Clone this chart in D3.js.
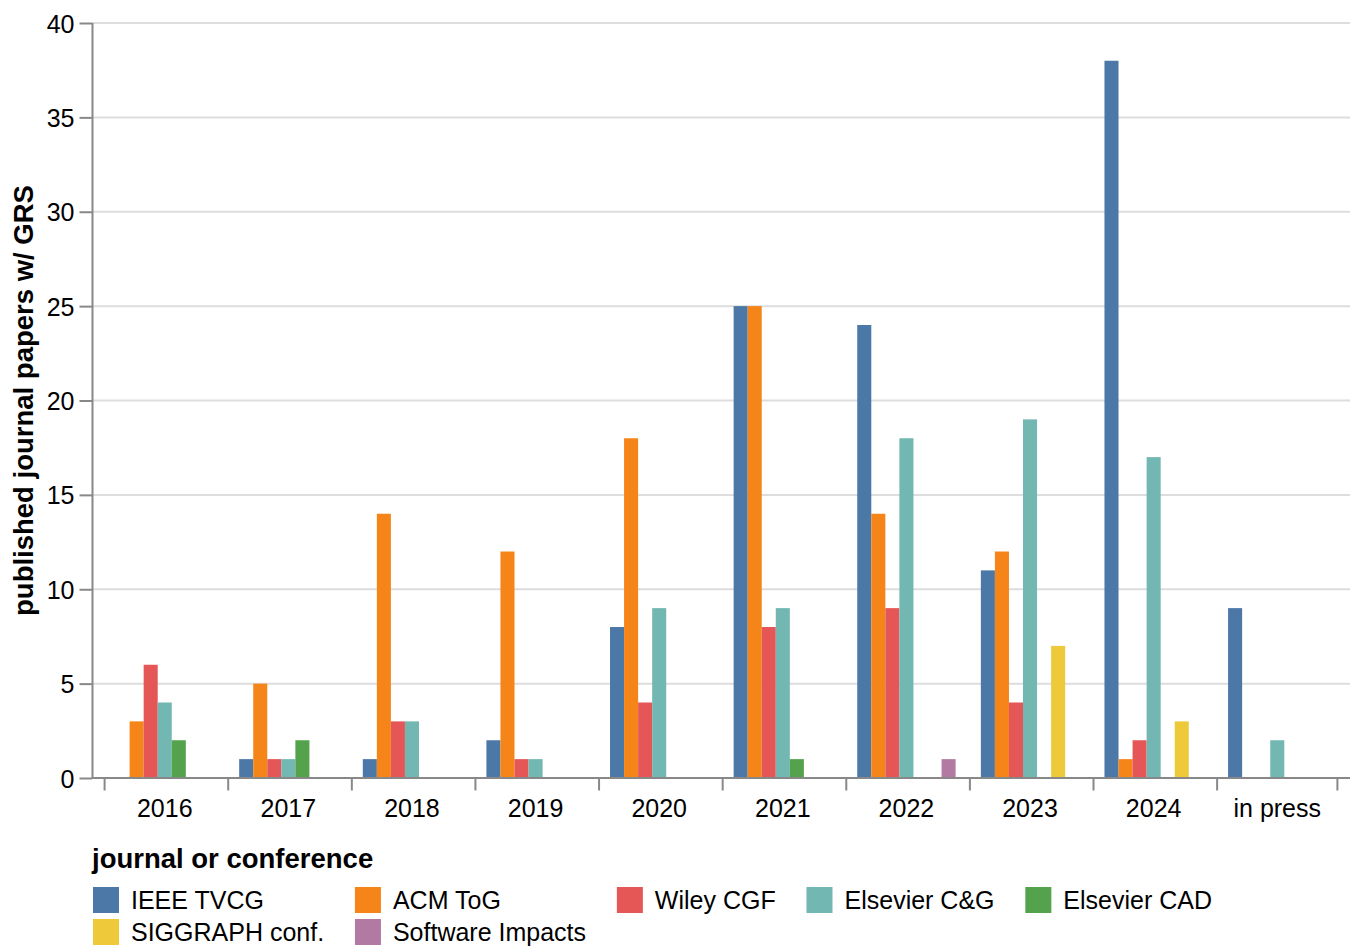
<!DOCTYPE html>
<html>
<head>
<meta charset="utf-8">
<script src="https://cdn.jsdelivr.net/npm/d3@7"></script>
<style>
  body { margin: 0; background: #fff; }
  text { font-family: "Liberation Sans", Arial, sans-serif; fill: #000; }
</style>
</head>
<body>
<svg id="chart"></svg>
<script>
// categories on the x axis
const years = ["2016", "2017", "2018", "2019", "2020", "2021", "2022", "2023", "2024", "in press"];

// journals / conferences (legend order)
const venues = ["IEEE TVCG", "ACM ToG", "Wiley CGF", "Elsevier C&G", "Elsevier CAD", "SIGGRAPH conf.", "Software Impacts"];
const venueColors = ["#4c78a8", "#f58518", "#e45756", "#72b7b2", "#54a24b", "#eeca3b", "#b279a2"];

// papers per year, one array per venue (same order as years)
const ieeeTvcg        = [0, 1, 1, 2, 8, 25, 24, 11, 38, 9];
const acmTog          = [3, 5, 14, 12, 18, 25, 14, 12, 1, 0];
const wileyCgf        = [6, 1, 3, 1, 4, 8, 9, 4, 2, 0];
const elsevierCg      = [4, 1, 3, 1, 9, 9, 18, 19, 17, 2];
const elsevierCad     = [2, 2, 0, 0, 0, 1, 0, 0, 0, 0];
const siggraphConf    = [0, 0, 0, 0, 0, 0, 0, 7, 3, 0];
const softwareImpacts = [0, 0, 0, 0, 0, 0, 1, 0, 0, 0];

const yTicks = [0, 5, 10, 15, 20, 25, 30, 35, 40];

const seriesValues = [ieeeTvcg, acmTog, wileyCgf, elsevierCg, elsevierCad, siggraphConf, softwareImpacts];

const rows = [];
years.forEach((yr, i) => {
    venues.forEach((v, j) => {
        rows.push({ year: yr, venue: v, value: seriesValues[j][i] });
    });
});

const W = 1355, H = 946;
const margin = { top: 23, right: 5, bottom: 168, left: 92 };
const plotW = W - margin.left - margin.right;
const plotH = H - margin.top - margin.bottom;

const svg = d3.select("#chart").attr("width", W).attr("height", H);
const g = svg.append("g").attr("transform", `translate(${margin.left},${margin.top})`);

const x0 = d3.scaleBand()
    .domain(years)
    .range([12.6, plotW - 12.6])
    .paddingInner(0.027)
    .paddingOuter(0);

const x1 = d3.scaleBand()
    .domain(venues)
    .range([0, x0.bandwidth()])
    .paddingOuter(0.78);

const y = d3.scaleLinear().domain([0, 40]).range([plotH, 0]);

const color = d3.scaleOrdinal().domain(venues).range(venueColors);

// grid
g.append("g")
    .selectAll("line")
    .data(yTicks)
    .join("line")
    .attr("x1", 0)
    .attr("x2", plotW)
    .attr("y1", d => y(d))
    .attr("y2", d => y(d))
    .attr("stroke", "#ddd")
    .attr("stroke-width", 2);

// bars
g.append("g")
    .selectAll("rect")
    .data(rows.filter(d => d.value > 0))
    .join("rect")
    .attr("x", d => x0(d.year) + x1(d.venue))
    .attr("width", x1.bandwidth())
    .attr("y", d => y(d.value))
    .attr("height", d => y(0) - y(d.value))
    .attr("fill", d => color(d.venue));

// y axis
const yAxis = g.append("g")
    .call(d3.axisLeft(y).tickValues(yTicks).tickSize(12.5).tickPadding(5));
yAxis.select(".domain").attr("stroke", "#888").attr("stroke-width", 2).attr("d", `M0.5,${plotH}V0`);
yAxis.selectAll(".tick line").attr("stroke", "#888").attr("stroke-width", 2);
yAxis.selectAll(".tick text")
    .style("font-size", "25px")
    .style("font-family", "'Liberation Sans', Arial, sans-serif")
    .attr("fill", "#000")
    .attr("dy", "0.36em");

// x axis
const xAxis = g.append("g").attr("transform", `translate(0,${plotH})`);
xAxis.append("line")
    .attr("x1", 0).attr("x2", plotW)
    .attr("y1", 0).attr("y2", 0)
    .attr("stroke", "#888").attr("stroke-width", 2);

const tickXs = years.map(d => x0(d)).concat([x0.range()[1]]);
xAxis.selectAll(".xtick")
    .data(tickXs)
    .join("line")
    .attr("class", "xtick")
    .attr("x1", d => d).attr("x2", d => d)
    .attr("y1", 0).attr("y2", 12.5)
    .attr("stroke", "#888").attr("stroke-width", 2);

xAxis.selectAll(".xlabel")
    .data(years)
    .join("text")
    .attr("class", "xlabel")
    .attr("x", d => x0(d) + x0.bandwidth() / 2)
    .attr("y", 12.5 + 5 + 21)
    .attr("text-anchor", "middle")
    .style("font-size", "25px")
    .text(d => d);

// y axis title
svg.append("text")
    .attr("transform", `translate(33,${margin.top + plotH / 2}) rotate(-90)`)
    .attr("text-anchor", "middle")
    .style("font-size", "27.5px")
    .style("font-weight", "bold")
    .text("published journal papers w/ GRS");

// legend
const legend = svg.append("g").attr("transform", "translate(92,0)");
legend.append("text")
    .attr("x", 0)
    .attr("y", 868)
    .style("font-size", "27.5px")
    .style("font-weight", "bold")
    .text("journal or conference");

const nCols = 5;
const items = legend.selectAll(".item")
    .data(venues)
    .join("g")
    .attr("class", "item");

items.append("rect")
    .attr("width", 26)
    .attr("height", 26)
    .attr("y", -13)
    .attr("fill", d => color(d));

items.append("text")
    .attr("x", 38)
    .attr("y", 9)
    .style("font-size", "25px")
    .text(d => d);

// column widths from the widest label in each column
const labelW = [];
items.selectAll("text").each(function() { labelW.push(this.getComputedTextLength()); });
const colX = [0];
for (let c = 0; c < nCols - 1; c++) {
    let maxW = 0;
    venues.forEach((v, i) => { if (i % nCols === c) maxW = Math.max(maxW, labelW[i]); });
    colX.push(colX[c] + 38 + maxW + 30.8);
}
items.attr("transform", (d, i) => `translate(${colX[i % nCols] + 1},${900 + Math.floor(i / nCols) * 32})`);
</script>
</body>
</html>
